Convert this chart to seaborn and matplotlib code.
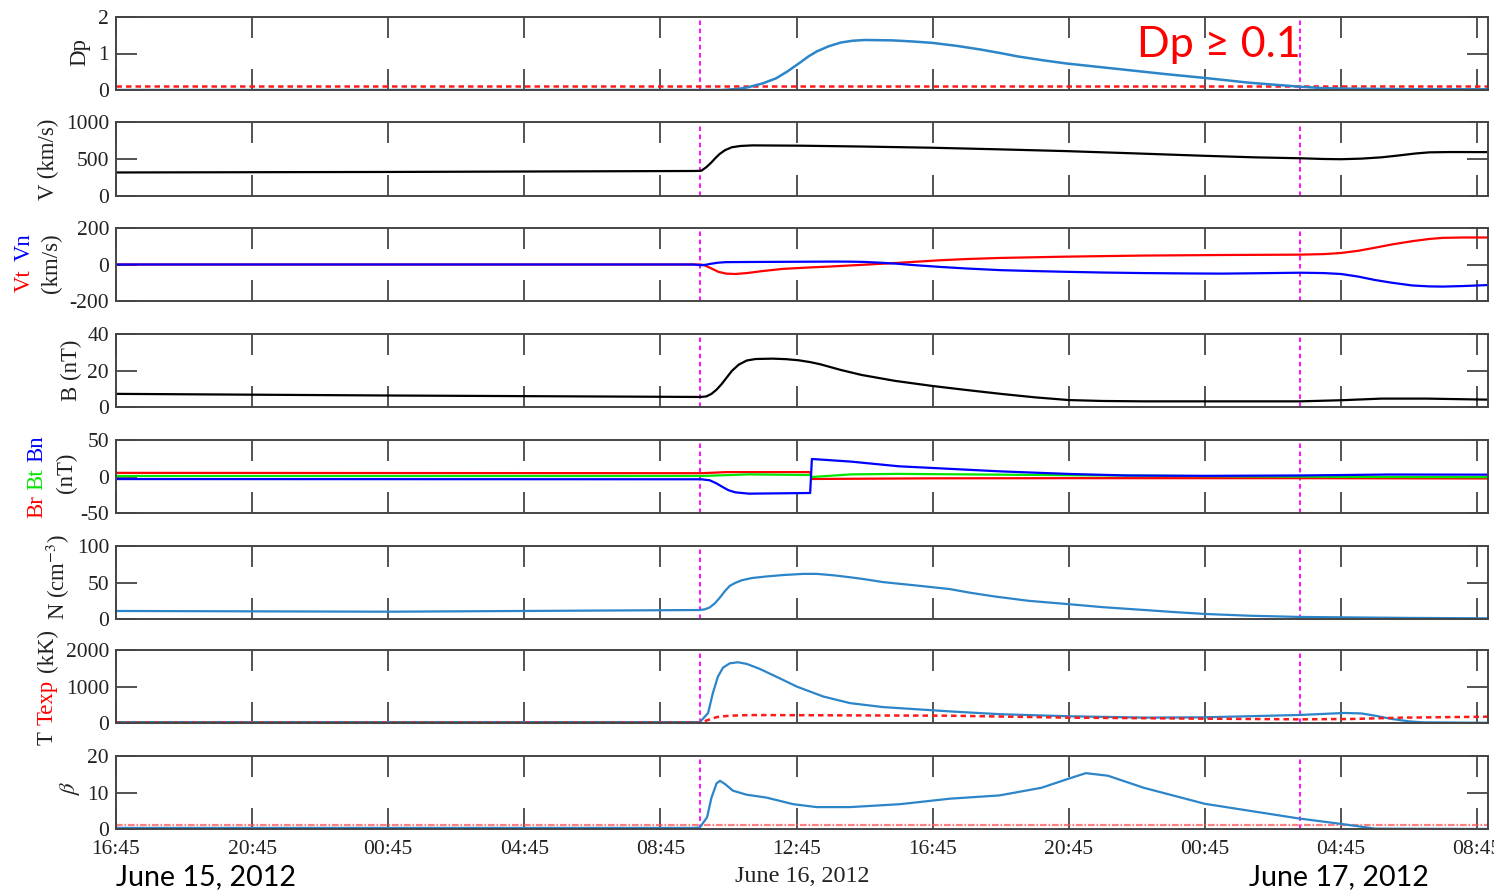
import matplotlib
matplotlib.use("Agg")
import matplotlib.pyplot as plt
import seaborn as sns

# ---- time axis: hours since 16:45 UT, June 15, 2012 ----
x_tick_hours = [0, 4, 8, 12, 16, 20, 24, 28, 32, 36, 40]
x_tick_labels = ["16:45", "20:45", "00:45", "04:45", "08:45", "12:45",
                 "16:45", "20:45", "00:45", "04:45", "08:45"]
x_end = 40.32
boundary_times = [17.16, 34.8]          # magenta interval markers
date_labels = ["June 15, 2012", "June 16, 2012", "June 17, 2012"]

# ---- dynamic pressure ----
t_dp = [0, 17.0, 17.8, 18.3, 18.6, 19.0, 19.4, 19.75, 20.1, 20.35, 20.6, 20.95,
        21.3, 21.65, 22.0, 22.8, 23.4, 24.0, 24.7, 25.4, 26.0, 26.5, 27.2, 27.9,
        28.8, 29.7, 30.8, 32.0, 33.3, 34.8, 35.5, 36.0, 38.0, 40.4]
dp = [0.0, 0.0, 0.0, 0.03, 0.08, 0.18, 0.32, 0.52, 0.75, 0.92, 1.06, 1.20,
      1.30, 1.35, 1.37, 1.36, 1.33, 1.29, 1.21, 1.11, 1.01, 0.92, 0.82, 0.73,
      0.64, 0.55, 0.44, 0.33, 0.20, 0.09, 0.05, 0.04, 0.02, 0.02]
dp_threshold = 0.1

# ---- bulk speed ----
t_v = [0, 8, 17.0, 17.2, 17.35, 17.5, 17.62, 17.74, 17.9, 18.1, 18.35, 18.7,
       20.1, 22.0, 24.0, 26.0, 27.9, 30.0, 32.0, 33.5, 34.8, 35.5, 36.0, 36.6,
       37.2, 37.7, 38.2, 38.6, 39.2, 40.4]
v = [318, 325, 338, 341, 390, 455, 515, 568, 620, 659, 676, 684,
     680, 668, 652, 630, 607, 575, 543, 522, 510, 500, 497, 505,
     523, 548, 575, 590, 594, 593]

# ---- tangential / normal velocity ----
t_vt = [0, 17.18, 17.3, 17.48, 17.7, 17.93, 18.2, 18.54, 19.0, 19.6, 20.4,
        21.0, 21.6, 22.2, 22.8, 23.5, 24.2, 25.0, 26.0, 27.9, 30.2, 32.5, 34.8,
        35.5, 36.0, 36.5, 37.0, 37.5, 38.1, 38.6, 39.0, 39.6, 40.4]
vt = [0, 0, -5, -20, -40, -50, -52, -47, -36, -24, -16,
      -11, -5, 1, 7, 15, 23, 30, 36, 43, 49, 52, 54,
      57, 63, 75, 92, 110, 128, 140, 146, 148, 148]
t_vn = [0, 16.97, 17.18, 17.35, 17.48, 17.7, 17.93, 18.8, 20.0, 21.1, 21.6,
        22.0, 22.45, 22.9, 23.5, 24.2, 25.0, 26.0, 27.0, 27.9, 29.0, 30.2, 31.5,
        32.5, 33.5, 34.8, 35.5, 36.0, 36.5, 37.0, 37.5, 38.1, 38.6, 39.0, 39.6,
        40.4]
vn = [0, 0, -4, -1, 4, 10, 13, 14, 15, 16, 15.5,
      14, 10, 5, -4, -13, -22, -31, -36, -40, -44, -47, -49,
      -50, -48, -45, -47, -52, -66, -85, -100, -115, -120, -121, -118,
      -112]

# ---- magnetic field magnitude ----
t_b = [0, 8, 17.18, 17.35, 17.5, 17.65, 17.8, 17.95, 18.1, 18.3, 18.54, 18.8,
       19.3, 19.7, 20.06, 20.4, 20.7, 21.3, 21.9, 22.9, 24.0, 25.0, 26.0, 27.0,
       28.0, 29.0, 30.2, 34.8, 36.0, 37.2, 38.5, 40.4]
b = [7.2, 6.3, 5.5, 5.8, 7.2, 9.5, 12.6, 16.2, 19.8, 23.2, 25.5, 26.3,
     26.5, 26.2, 25.6, 24.6, 23.4, 20.3, 17.6, 14.3, 11.5, 9.3, 7.2, 5.3,
     3.8, 3.3, 3.1, 3.1, 3.7, 4.6, 4.6, 4.0]

# ---- RTN field components ----
t_br = [0, 17.2, 17.95, 20.40, 20.45, 24.0, 28.0, 34.8, 40.4]
br = [5.0, 4.5, 6.0, 6.0, -3.4, -2.5, -2.3, -2.3, -2.7]
t_bt = [0, 17.2, 18.6, 20.40, 20.45, 21.6, 23.0, 28.0, 32.0, 36.0, 40.4]
bt = [0.7, 0.7, 2.9, 2.0, -0.7, 2.9, 3.6, 1.8, 0.5, -0.5, -0.9]
t_bn = [0, 17.2, 17.45, 17.65, 17.85, 18.0, 18.2, 18.6, 20.40, 20.45, 21.6,
        23.0, 24.5, 26.0, 28.0, 29.7, 32.0, 34.8, 37.4, 40.4]
bn = [-3.5, -3.8, -5.2, -9.5, -15.0, -18.8, -21.7, -23.5, -22.6, 24.0, 20.4,
      14.0, 10.5, 7.0, 3.5, 1.4, 0.9, 1.4, 2.7, 2.5]

# ---- proton density ----
t_n = [0, 8, 17.14, 17.3, 17.45, 17.6, 17.75, 17.9, 18.04, 18.2, 18.4, 18.7,
       19.1, 19.6, 20.2, 20.6, 21.1, 21.6, 22.0, 22.55, 23.5, 24.5, 25.1, 25.8,
       26.8, 28.0, 29.0, 30.2, 31.0, 32.0, 33.3, 34.8, 36.0, 38.0, 40.4]
n = [11, 10, 12.3, 13.2, 15.9, 21.5, 29.5, 38.5, 45.5, 49.5, 53.2, 56.2,
     58.2, 60.2, 61.8, 61.8, 59.8, 57.0, 54.5, 50.5, 46, 41, 36, 31,
     25, 20.3, 16.2, 12.4, 9.8, 6.9, 4.5, 2.8, 2.3, 1.5, 0.9]

# ---- proton temperature and expected temperature ----
t_temp = [0, 17.0, 17.16, 17.4, 17.54, 17.69, 17.84, 18.04, 18.28, 18.54,
          18.92, 19.6, 20.0, 20.78, 21.57, 22.54, 24.5, 26.0, 28.0, 30.2, 32.0,
          34.8, 36.1, 36.6, 37.0, 37.5, 38.0, 38.4, 40.4]
temp = [25, 25, 25, 273, 818, 1273, 1518, 1636, 1664, 1618,
        1482, 1182, 1000, 727, 545, 436, 318, 240, 185, 148, 156,
        220, 275, 262, 200, 110, 45, 18, 5]
t_texp = [0, 17.16, 17.37, 17.66, 18.04, 18.63, 24.5, 28.0, 32.0, 34.8, 36.3,
          37.8, 40.4]
texp = [10, 10, 73, 164, 200, 218, 200, 147, 119, 100, 110, 147, 174]

# ---- plasma beta ----
t_beta = [0, 17.0, 17.16, 17.37, 17.5, 17.65, 17.75, 17.9, 18.13, 18.53,
          19.12, 19.9, 20.59, 21.57, 23.04, 24.5, 25.96, 27.2, 28.0, 28.5,
          29.15, 30.2, 32.0, 34.75, 36.0, 37.0, 40.4]
beta = [0.3, 0.3, 0.45, 3.2, 8.6, 12.5, 13.2, 12.3, 10.5, 9.4,
        8.6, 6.8, 6.0, 6.0, 6.8, 8.3, 9.2, 11.3, 13.8, 15.3,
        14.6, 11.3, 6.9, 2.9, 1.4, 0.1, 0.0]
beta_threshold = 1.0

# ---- panel settings ----
y_limits = [(0, 2), (0, 1000), (-200, 200), (0, 40), (-50, 50), (0, 100),
            (0, 2000), (0, 20)]
panel_px = [(17, 90), (122, 196), (228, 301), (334, 407), (440, 513),
            (546, 619), (650, 723), (756, 829)]

W, H = 1494, 892
LEFT_PX, RIGHT_PX = 116, 1488

sns.set_theme(style="white")
plt.rcParams["font.family"] = ["Liberation Serif", "DejaVu Serif"]
plt.rcParams["mathtext.fontset"] = "stix"

C_BLUE = "#2b85c8"
C_RED = "#ff1a1a"
C_TXT = "#222222"
C_FRAME = "#454545"
TICK_FS = 15.5
LABEL_FS = 16.4
SANS = ["Lato", "DejaVu Sans"]

fig = plt.figure(figsize=(W / 100, H / 100), dpi=100)
fig.patch.set_facecolor("white")

def fx(px):
    return px / W

def fy(px):
    return 1 - px / H

axes = []
for (top, bot), ylim in zip(panel_px, y_limits):
    ax = fig.add_axes([fx(LEFT_PX), fy(bot), fx(RIGHT_PX - LEFT_PX), (bot - top) / H])
    ax.set_xlim(0, x_end)
    ax.set_ylim(*ylim)
    ax.set_yticks([ylim[0], (ylim[0] + ylim[1]) / 2, ylim[1]])
    ax.set_yticklabels([f"{val:g}" for val in ax.get_yticks()])
    ax.set_xticks(x_tick_hours)
    ax.set_xticklabels([])
    ax.tick_params(direction="in", length=15, width=1.3, color=C_FRAME,
                   top=True, right=True, bottom=True, left=True,
                   labelsize=TICK_FS, labelcolor=C_TXT, pad=5)
    for sp in ax.spines.values():
        sp.set_color(C_FRAME)
        sp.set_linewidth(1.4)
        sp.set_visible(True)
    ax.set_facecolor("white")
    ax.grid(False)
    for tb in boundary_times:
        ax.axvline(tb, color="#ff00ff", lw=1.3, ls=(0, (2.5, 2.0)), zorder=1)
    axes.append(ax)

ax_dp, ax_v, ax_vtn, ax_b, ax_brtn, ax_n, ax_t, ax_beta = axes

def line(ax, t, y, color, lw=1.6, **kw):
    sns.lineplot(x=t, y=y, ax=ax, color=color, linewidth=lw, legend=False,
                 estimator=None, sort=False, **kw)
    ax.set_xlabel("")
    ax.set_ylabel("")

# Dp with its threshold
ax_dp.axhline(dp_threshold, color=C_RED, lw=1.8, ls=(0, (2.2, 1.6)), zorder=2)
line(ax_dp, t_dp, dp, C_BLUE, lw=1.8)
fig.text(fx(1219), fy(45), f"Dp \u2265 {dp_threshold}", color="#ff0000",
         fontsize=31, family=SANS, ha="center", va="center")

line(ax_v, t_v, v, "black")
line(ax_vtn, t_vt, vt, "#ff0000")
line(ax_vtn, t_vn, vn, "#0000ff")
line(ax_b, t_b, b, "black")
line(ax_brtn, t_br, br, "#ff0000")
line(ax_brtn, t_bt, bt, "#00e600")
line(ax_brtn, t_bn, bn, "#0000ff")
line(ax_n, t_n, n, C_BLUE)
line(ax_t, t_temp, temp, C_BLUE)
line(ax_t, t_texp, texp, C_RED, lw=1.8, linestyle=(0, (2.2, 1.6)))
ax_beta.axhline(beta_threshold, color="#ff5555", lw=1.6, alpha=0.75,
                ls=(0, (3, 0.8, 0.8, 0.8)), zorder=2)
line(ax_beta, t_beta, beta, C_BLUE)

# bottom time axis labels
ax_beta.set_xticklabels(x_tick_labels)
ax_beta.tick_params(axis="x", labelsize=TICK_FS, pad=8)

# y-axis labels (multi-coloured ones are assembled from pieces)
def ylab(px_x, px_y, s, color=C_TXT, **kw):
    fig.text(fx(px_x), fy(px_y), s, color=color, rotation=90, ha="center",
             va="center", fontsize=LABEL_FS, **kw)

ylab(80, 52, "Dp")
ylab(48, 159, "V (km/s)")
ylab(24, 281, "Vt", color="#ff0000")
ylab(24, 247, "Vn", color="#0000ff")
ylab(51, 263, "(km/s)")
ylab(71, 370, "B (nT)")
ylab(37, 507, "Br", color="#ff0000")
ylab(37, 479, "Bt", color="#00e600")
ylab(37, 449, "Bn", color="#0000ff")
ylab(66, 473, "(nT)")
ylab(58, 577, "N (cm$^{-3}$)")
ylab(47, 738, "T")
ylab(47, 702, "Texp", color="#ff0000")
ylab(47, 651, "(kK)")
ylab(70, 788, r"$\beta$")

# date annotations
fig.text(fx(116), fy(877), date_labels[0], fontsize=20.6, family=SANS,
         color="black", ha="left", va="center")
fig.text(fx(802), fy(877), date_labels[1], fontsize=17.4, color=C_TXT,
         ha="center", va="center")
fig.text(fx(1339), fy(877), date_labels[2], fontsize=20.6, family=SANS,
         color="black", ha="center", va="center")

fig.savefig("out.png", dpi=100, facecolor="white")
